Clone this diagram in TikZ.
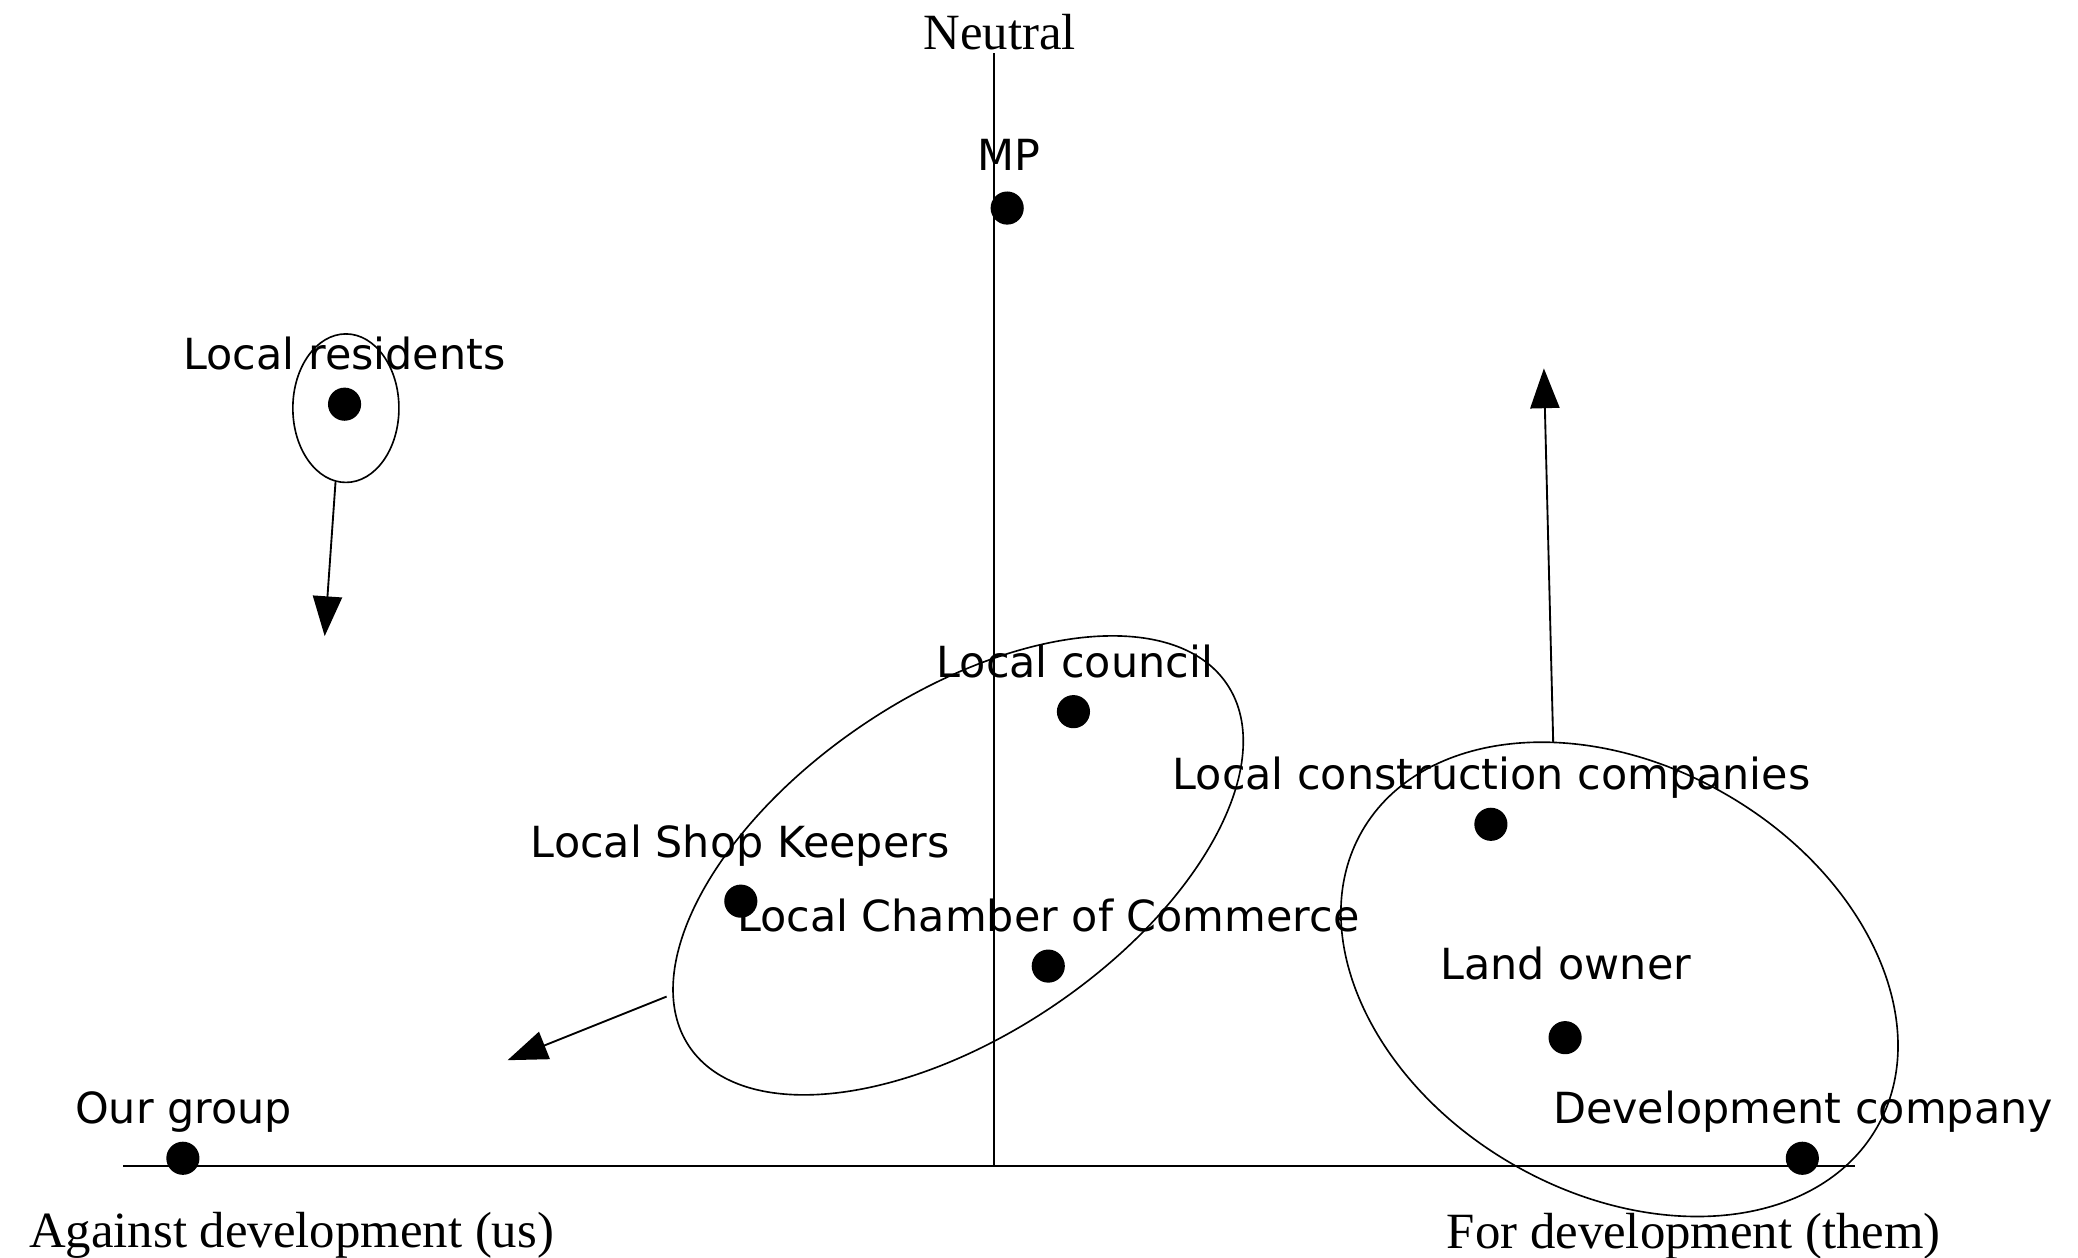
\documentclass[tikz,border=0pt]{standalone}
\usepackage{fontspec}
\usetikzlibrary{arrows.meta,shapes.geometric}
\newfontfamily\labfont{DejaVu Sans}
\newfontfamily\serfont{Liberation Serif}
\tikzset{
  lab/.style={anchor=base,inner sep=0pt,font=\labfont\fontsize{9.2}{11}\selectfont},
  axlab/.style={anchor=base,inner sep=0pt,font=\serfont\fontsize{10.9}{13}\selectfont},
  dot/.style={circle,fill=black,inner sep=0pt,minimum size=0.25cm},
  grp/.style={ellipse,draw,line width=0.35pt,inner sep=0pt},
  axis/.style={line width=0.4pt},
  arr/.style={line width=0.4pt,-{Triangle[length=0.3cm,width=0.22cm]}}
}
\begin{document}
\begin{tikzpicture}[x=0.01cm,y=-0.01cm]
\useasboundingbox (0,0) rectangle (1568,949);
% axes
\coordinate (vtop) at (750,40);
\coordinate (vbot) at (750,880);
\coordinate (hl) at (93,880);
\coordinate (hr) at (1400,880);
\draw[axis] (vtop) -- (vbot);
\draw[axis] (hl) -- (hr);
\node[axlab] (neutral) at (754.5,37) {Neutral};
\node[axlab] (against) at (220,941) {Against development (us)};
\node[axlab] (for) at (1278,942) {For development (them)};
% groups
\node[grp,minimum width=0.8cm,minimum height=1.12cm] (g0) at (261,308) {};
\node[grp,minimum width=4.89cm,minimum height=2.56cm,rotate=34] (g1) at (723,653) {};
\node[grp,minimum width=4.48cm,minimum height=3.22cm,rotate=-30] (g2) at (1222,739) {};
% stakeholders
\node[dot] (mp) at (760,157) {};
\node[lab] (mpl) at (761,129) {MP};
\node[dot] (res) at (260,305) {};
\node[lab] (resl) at (260,279) {Local residents};
\node[dot] (council) at (810,537) {};
\node[lab] (councill) at (811,511) {Local council};
\node[dot] (shop) at (559,680) {};
\node[lab] (shopl) at (558.5,647) {Local Shop Keepers};
\node[dot] (chamber) at (791,729) {};
\node[lab] (chamberl) at (791,703) {Local Chamber of Commerce};
\node[dot] (constr) at (1125,622) {};
\node[lab] (constrl) at (1125.5,596) {Local construction companies};
\node[dot] (land) at (1181,783) {};
\node[lab] (landl) at (1181.5,739) {Land owner};
\node[dot] (dev) at (1360,874) {};
\node[lab] (devl) at (1360.5,848) {Development company};
\node[dot] (our) at (138,874) {};
\node[lab] (ourl) at (138.5,848) {Our group};
% movement arrows
\coordinate (t0) at (245,480);
\coordinate (s1) at (503,752);
\coordinate (t1) at (383,800);
\coordinate (s2) at (1172,560);
\coordinate (t2) at (1165,278);
\draw[arr] (g0.262) -- (t0);
\draw[arr] (s1) -- (t1);
\draw[arr] (s2) -- (t2);
\end{tikzpicture}
\end{document}
